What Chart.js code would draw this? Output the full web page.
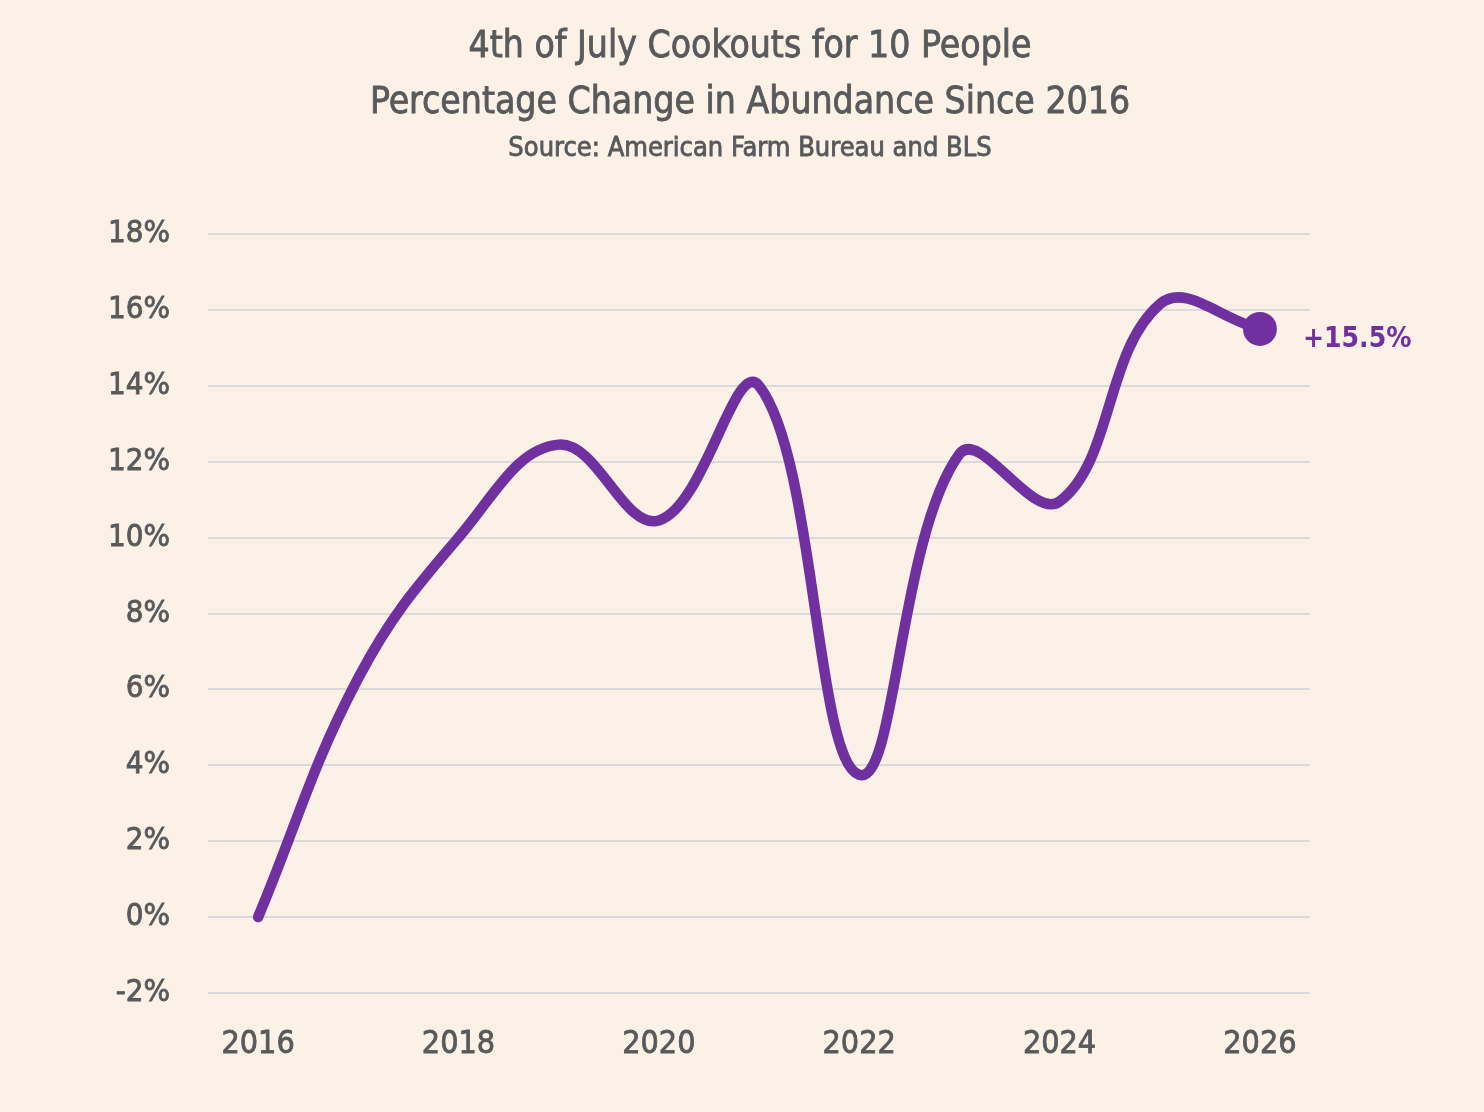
<!DOCTYPE html>
<html>
<head>
<meta charset="utf-8">
<script src="https://cdn.jsdelivr.net/npm/chart.js@4"></script>
<style>
  html, body { margin: 0; padding: 0; background: #fbf1e6; }
  #wrap { width: 1484px; height: 1112px; }
</style>
</head>
<body>
<div id="wrap"><canvas id="cookout-chart"></canvas></div>
<script>
// data
const years = ['2016', '2017', '2018', '2019', '2020', '2021', '2022', '2023', '2024', '2025', '2026'];
const abundance = [0, 6.3, 10.0, 12.45, 10.45, 14.0, 3.75, 12.2, 10.95, 16.15, 15.5];
const yTicks = [-2, 0, 2, 4, 6, 8, 10, 12, 14, 16, 18];
const shownYears = ['2016', '2018', '2020', '2022', '2024', '2026'];
const titleLines = ['4th of July Cookouts for 10 People', 'Percentage Change in Abundance Since 2016'];
const sourceLine = 'Source: American Farm Bureau and BLS';

const FONT = "'Liberation Sans Narrow', 'DejaVu Sans Condensed', sans-serif";
const GREY = '#58595b';
const PURPLE = '#7030a0';

// fill + thin stroke so the text looks a bit heavier, like the original
function heavyText(ctx, text, x, y) {
  ctx.fillText(text, x, y);
  ctx.strokeText(text, x, y);
}

// titles centred on the page, plus the label at the end of the line
const annotations = {
  id: 'annotations',
  afterDatasetsDraw(chart) {
    const ctx = chart.ctx;
    ctx.save();
    ctx.textAlign = 'center';
    ctx.textBaseline = 'middle';
    ctx.fillStyle = GREY;
    ctx.strokeStyle = GREY;
    ctx.lineWidth = 0.8;
    ctx.font = '37px ' + FONT;
    heavyText(ctx, titleLines[0], 750, 47);
    heavyText(ctx, titleLines[1], 750, 103);
    ctx.font = '27px ' + FONT;
    heavyText(ctx, sourceLine, 750, 149);

    const meta = chart.getDatasetMeta(0);
    const last = meta.data[meta.data.length - 1];
    const value = abundance[abundance.length - 1];
    ctx.font = 'bold 28px ' + FONT;
    ctx.fillStyle = PURPLE;
    ctx.textAlign = 'left';
    ctx.fillText('+' + value.toFixed(1) + '%', last.x + 43, last.y + 11);
    ctx.restore();
  },
};

const lineConfig = {
  type: 'line',
  data: {
    labels: years,
    datasets: [
      {
        label: 'Abundance',
        data: abundance,
        borderColor: PURPLE,
        backgroundColor: PURPLE,
        borderWidth: 10.5,
        borderCapStyle: 'round',
        tension: 0.4,
        pointRadius: (ctx) => (ctx.dataIndex === abundance.length - 1 ? 17 : 0),
        pointBorderWidth: 0,
        pointHoverRadius: 0,
      },
    ],
  },
  options: {
    responsive: true,
    maintainAspectRatio: false,
    animation: false,
    layout: {
      padding: { left: 0, right: 174, top: 234, bottom: 39 },
    },
    plugins: {
      legend: { display: false },
      tooltip: { enabled: false },
      title: { display: false },
    },
    scales: {
      x: {
        offset: true,
        grid: { display: false },
        border: { display: false },
        afterFit: (scale) => {
          scale.height = 80;
        },
        ticks: {
          autoSkip: false,
          maxRotation: 0,
          padding: 24,
          color: GREY,
          textStrokeColor: GREY,
          textStrokeWidth: 0.8,
          font: { family: FONT, size: 32 },
          callback: function (value) {
            const label = this.getLabelForValue(value);
            return shownYears.includes(label) ? label : '';
          },
        },
      },
      y: {
        min: yTicks[0],
        max: yTicks[yTicks.length - 1],
        afterBuildTicks: (scale) => {
          scale.ticks = yTicks.map((v) => ({ value: v }));
        },
        afterFit: (scale) => {
          scale.width = 208;
        },
        grid: { color: '#dadada', lineWidth: 2, drawTicks: false },
        border: { display: false },
        ticks: {
          padding: 38,
          color: GREY,
          textStrokeColor: GREY,
          textStrokeWidth: 0.8,
          font: { family: FONT, size: 31 },
          callback: (value) => value + '%',
        },
      },
    },
  },
  plugins: [annotations],
};

const cookoutChart = document.querySelector('#cookout-chart');
new Chart(cookoutChart, lineConfig);
</script>
</body>
</html>
